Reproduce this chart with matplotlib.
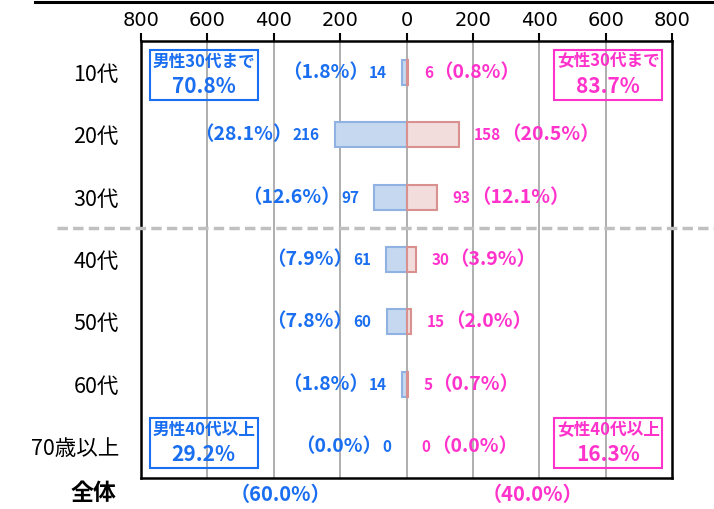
import matplotlib
matplotlib.use("Agg")
import matplotlib.pyplot as plt
import matplotlib.transforms as mtransforms
from matplotlib.offsetbox import TextArea, HPacker, VPacker, AnnotationBbox
from matplotlib.lines import Line2D

plt.rcParams['font.family'] = ['Noto Sans CJK JP', 'DejaVu Sans']

categories = ["10代", "20代", "30代", "40代", "50代", "60代", "70歳以上"]
male = [14, 216, 97, 61, 60, 14, 0]
male_pct = ["1.8", "28.1", "12.6", "7.9", "7.8", "1.8", "0.0"]
female = [6, 158, 93, 30, 15, 5, 0]
female_pct = ["0.8", "20.5", "12.1", "3.9", "2.0", "0.7", "0.0"]
tick_values = [-800, -600, -400, -200, 0, 200, 400, 600, 800]
tick_labels = ["800", "600", "400", "200", "0", "200", "400", "600", "800"]
total_label = "全体"
male_total = "（60.0%）"
female_total = "（40.0%）"
box_texts = [("男性30代まで", "70.8%"), ("女性30代まで", "83.7%"),
             ("男性40代以上", "29.2%"), ("女性40代以上", "16.3%")]

BLUE = "#1a6ef0"
MAG = "#ff33cc"

fig = plt.figure(figsize=(7.14, 5.09), dpi=100)
ax = fig.add_axes([141/714, 31/509, (672-141)/714, (478-41)/509])

y = list(range(len(categories)))
ax.set_xlim(-800, 800)
ax.set_ylim(len(categories) - 0.5, -0.5)

for v in tick_values[1:-1]:
    ax.axvline(v, color="#a8a8a8", lw=1.3, zorder=0)

ax.barh(y, [-m for m in male], height=0.4, color="#c6d8f0", edgecolor="#8fb2e3",
        lw=[1.5 if m > 0 else 0 for m in male], zorder=2)
ax.barh(y, female, height=0.4, color="#f3dcdc", edgecolor="#d99190",
        lw=[1.5 if f > 0 else 0 for f in female], zorder=2)

for i in y:
    pct = TextArea("（" + male_pct[i] + "%）",
                   textprops=dict(color=BLUE, fontsize=14, fontweight="bold"))
    num = TextArea(str(male[i]),
                   textprops=dict(color=BLUE, fontsize=11, fontweight="bold"))
    pack = HPacker(children=[pct, num], sep=0, align="baseline", pad=0)
    ab = AnnotationBbox(pack, (-male[i], i), xybox=(-11, 0), xycoords="data",
                        boxcoords="offset points", box_alignment=(1, 0.5),
                        frameon=False, pad=0)
    ax.add_artist(ab)

    num = TextArea(str(female[i]),
                   textprops=dict(color=MAG, fontsize=11, fontweight="bold"))
    pct = TextArea("（" + female_pct[i] + "%）",
                   textprops=dict(color=MAG, fontsize=14, fontweight="bold"))
    pack = HPacker(children=[num, pct], sep=0, align="baseline", pad=0)
    ab = AnnotationBbox(pack, (female[i], i), xybox=(11, 0), xycoords="data",
                        boxcoords="offset points", box_alignment=(0, 0.5),
                        frameon=False, pad=0)
    ax.add_artist(ab)

box_pos = [(-611, 0.04, BLUE), (608, 0.04, MAG), (-611, 5.94, BLUE), (608, 5.94, MAG)]
for (t1, t2), (bx, by, c) in zip(box_texts, box_pos):
    a = TextArea(t1, textprops=dict(color=c, fontsize=12, fontweight="bold"))
    b = TextArea(t2, textprops=dict(color=c, fontsize=15, fontweight="bold"))
    pack = VPacker(children=[a, b], sep=4, align="center", pad=0)
    ab = AnnotationBbox(pack, (bx, by), xycoords="data", box_alignment=(0.5, 0.5),
                        frameon=True, pad=0.2,
                        bboxprops=dict(edgecolor=c, facecolor="none", lw=1.5))
    ax.add_artist(ab)

ax.set_yticks(y)
ax.set_yticklabels(categories, fontsize=15.5)
ax.tick_params(axis="y", length=0, pad=16)
ax.xaxis.tick_top()
ax.set_xticks(tick_values)
ax.set_xticklabels(tick_labels, fontsize=14, family=["Liberation Sans Narrow", "DejaVu Sans"])
ax.tick_params(axis="x", length=6, width=1.5, pad=2, direction="out")
for s in ax.spines.values():
    s.set_linewidth(1.8)
    s.set_color("black")

# dashed separator between 30代 and 40代
tr = mtransforms.blended_transform_factory(fig.transFigure, ax.transData)
ax.add_line(Line2D([57/714, 1.0], [2.5, 2.5], transform=tr, color="#c0c0c0",
                   lw=2.5, ls=(0, (3, 1.5)), clip_on=False, zorder=5))

# top line
fig.add_artist(Line2D([35/714, 1.0], [1 - 1.5/509, 1 - 1.5/509], color="black", lw=2.2))

# bottom totals
fig.text(93/714, 1 - 494/509, total_label, ha="center", va="center", fontsize=16.5,
         fontweight="bold", color="black")
fig.text(280/714, 1 - 494/509, male_total, ha="center", va="center", fontsize=14.5,
         fontweight="bold", color=BLUE)
fig.text(532/714, 1 - 494/509, female_total, ha="center", va="center", fontsize=14.5,
         fontweight="bold", color=MAG)

fig.savefig("out.png", dpi=100)
